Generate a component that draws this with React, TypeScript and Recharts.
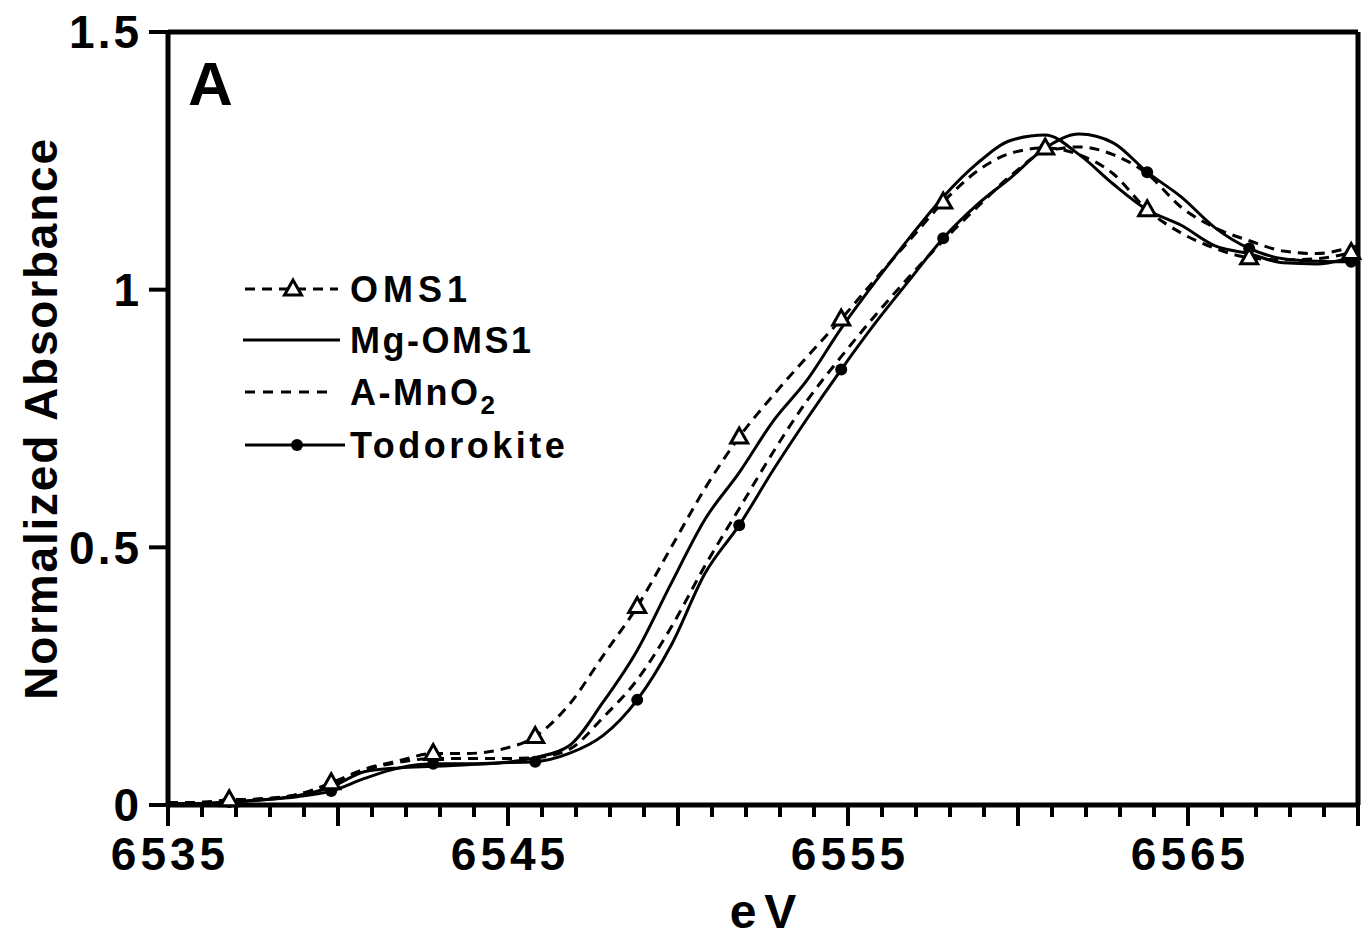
import React from 'react';
import { LineChart, Line, XAxis, YAxis, ReferenceLine } from 'recharts';

const FONT = '"Liberation Sans", Arial, Helvetica, sans-serif';

// shared energy grid (eV)
const energy = [
  6535, 6535.8, 6536.8, 6537.8, 6538.8, 6539.8, 6540.8, 6541.8, 6542.8, 6543.8,
  6544.8, 6545.8, 6546.8, 6547.8, 6548.8, 6549.8, 6550.8, 6551.8, 6552.8, 6553.8,
  6554.8, 6555.8, 6556.8, 6557.8, 6558.8, 6559.8, 6560.8, 6561.8, 6562.8, 6563.8,
  6564.8, 6565.8, 6566.8, 6567.8, 6568.8, 6569.8, 6570,
];

const oms1 = [
  0.005, 0.005, 0.01, 0.012, 0.02, 0.043, 0.07, 0.086, 0.1, 0.1,
  0.108, 0.133, 0.195, 0.29, 0.385, 0.5, 0.615, 0.714, 0.795, 0.87,
  0.943, 1.02, 1.095, 1.17, 1.23, 1.265, 1.275, 1.262, 1.225, 1.155,
  1.11, 1.08, 1.062, 1.058, 1.06, 1.072, 1.075,
];

const mgOms1 = [
  0.003, 0.003, 0.005, 0.01, 0.018, 0.035, 0.065, 0.072, 0.075, 0.078,
  0.082, 0.092, 0.115, 0.2, 0.3, 0.43, 0.555, 0.645, 0.745, 0.825,
  0.925, 1.015, 1.1, 1.18, 1.245, 1.29, 1.3, 1.262, 1.205, 1.155,
  1.125, 1.085, 1.07, 1.052, 1.05, 1.062, 1.065,
];

const aMnO2 = [
  0.005, 0.005, 0.008, 0.012, 0.02, 0.04, 0.068, 0.083, 0.09, 0.09,
  0.09, 0.092, 0.108, 0.17, 0.243, 0.345, 0.465, 0.575, 0.685, 0.785,
  0.87, 0.95, 1.025, 1.095, 1.16, 1.222, 1.268, 1.277, 1.262, 1.225,
  1.16, 1.12, 1.095, 1.075, 1.07, 1.082, 1.085,
];

const todorokite = [
  0.003, 0.003, 0.006, 0.01, 0.016, 0.027, 0.052, 0.072, 0.08, 0.08,
  0.082, 0.084, 0.1, 0.135, 0.204, 0.31, 0.45, 0.543, 0.65, 0.75,
  0.845, 0.935, 1.018, 1.1, 1.165, 1.218, 1.275, 1.302, 1.285, 1.228,
  1.18, 1.12, 1.08, 1.06, 1.055, 1.054, 1.055,
];

const markerEnergy = [
  6536.8, 6539.8, 6542.8, 6545.8, 6548.8, 6551.8, 6554.8, 6557.8, 6560.8, 6563.8,
  6566.8, 6569.8,
];

const seriesNames = ['OMS1', 'Mg-OMS1', 'A-MnO2', 'Todorokite'];
const xLabelTicks = [6535, 6545, 6555, 6565];
const xTicks = [
  6535, 6536, 6537, 6538, 6539, 6540, 6541, 6542, 6543, 6544, 6545, 6546,
  6547, 6548, 6549, 6550, 6551, 6552, 6553, 6554, 6555, 6556, 6557, 6558,
  6559, 6560, 6561, 6562, 6563, 6564, 6565, 6566, 6567, 6568, 6569, 6570,
];
const yTicks = [0, 0.5, 1, 1.5];

const data = energy.map((ev, i) => ({
  ev,
  oms1: oms1[i],
  mgOms1: mgOms1[i],
  aMnO2: aMnO2[i],
  todorokite: todorokite[i],
}));

const isMarker = (ev: number) => markerEnergy.some((m) => Math.abs(m - ev) < 1e-6);

const Triangle = ({ cx, cy }: { cx: number; cy: number }) => (
  <polygon
    points={`${cx},${cy - 9} ${cx - 8.5},${cy + 6} ${cx + 8.5},${cy + 6}`}
    fill="#fff"
    stroke="#000"
    strokeWidth={3}
    strokeLinejoin="miter"
  />
);

const triangleDot = (props: any) => {
  const { cx, cy, payload, index } = props;
  if (!isMarker(payload.ev)) return <g key={`t${index}`} />;
  return (
    <g key={`t${index}`}>
      <Triangle cx={cx} cy={cy} />
    </g>
  );
};

const circleDot = (props: any) => {
  const { cx, cy, payload, index } = props;
  if (!isMarker(payload.ev)) return <g key={`c${index}`} />;
  return <circle key={`c${index}`} cx={cx} cy={cy} r={6} fill="#000" />;
};

const XTick = (props: any) => {
  const { x, y, payload } = props;
  const v = payload.value;
  const major = Math.round(v) % 5 === 0;
  const labeled = xLabelTicks.includes(v);
  return (
    <g>
      <line x1={x} x2={x} y1={y} y2={y + (major ? 21 : 12)} stroke="#000" strokeWidth={4} />
      {labeled && (
        <text
          x={x + 2}
          y={y + 65}
          textAnchor="middle"
          fontFamily={FONT}
          fontWeight={700}
          fontSize={46}
          letterSpacing={4}
          fill="#000"
        >
          {v}
        </text>
      )}
    </g>
  );
};

const YLabel = (props: any) => {
  const vb = props.viewBox || {};
  const cy = (vb.y ?? 32) + (vb.height ?? 773) / 2;
  const cx = 41;
  return (
    <text
      x={cx}
      y={cy}
      transform={`rotate(-90, ${cx}, ${cy})`}
      textAnchor="middle"
      dominantBaseline="central"
      fontFamily={FONT}
      fontWeight={700}
      fontSize={46}
      letterSpacing={1.8}
      fill="#000"
    >
      Normalized Absorbance
    </text>
  );
};

const XLabel = (props: any) => {
  const vb = props.viewBox || {};
  const cx = (vb.x ?? 168) + (vb.width ?? 1190) / 2;
  return (
    <text
      x={cx + 4}
      y={928}
      textAnchor="middle"
      fontFamily={FONT}
      fontWeight={700}
      fontSize={48}
      letterSpacing={8}
      fill="#000"
    >
      eV
    </text>
  );
};

const legendRows = [
  { y: 289, dash: '10 7', marker: 'tri', x1: 245, x2: 338 },
  { y: 340, dash: undefined, marker: 'none', x1: 243, x2: 340 },
  { y: 392, dash: '10 8', marker: 'none', x1: 245, x2: 332 },
  { y: 445, dash: undefined, marker: 'dot', x1: 245, x2: 345 },
];

const Overlay = () => (
  <svg
    width={1363}
    height={938}
    style={{ position: 'absolute', left: 0, top: 0, pointerEvents: 'none' }}
  >
    <text x={188} y={105} fontFamily={FONT} fontWeight={700} fontSize={62} fill="#000">
      A
    </text>
    {legendRows.map((r, i) => (
      <g key={i}>
        <line
          x1={r.x1}
          x2={r.x2}
          y1={r.y}
          y2={r.y}
          stroke="#000"
          strokeWidth={3}
          strokeDasharray={r.dash}
        />
        {r.marker === 'tri' && <Triangle cx={293} cy={r.y} />}
        {r.marker === 'dot' && <circle cx={297} cy={r.y} r={6} fill="#000" />}
        <text
          x={350}
          y={r.y + 13}
          fontFamily={FONT}
          fontWeight={700}
          fontSize={36}
          letterSpacing={i === 0 ? 5 : i === 3 ? 3.5 : 2.5}
          fill="#000"
        >
          {seriesNames[i] === 'A-MnO2' ? (
            <>
              A-MnO
              <tspan fontSize={26} dy={9}>
                2
              </tspan>
            </>
          ) : (
            seriesNames[i]
          )}
        </text>
      </g>
    ))}
  </svg>
);

export default function App() {
  return (
    <div
      style={{
        position: 'fixed',
        left: 0,
        top: 0,
        width: 1363,
        height: 938,
        background: '#fff',
      }}
    >
      <LineChart
        width={1363}
        height={938}
        data={data}
        margin={{ top: 32, right: 5, left: 0, bottom: 0 }}
      >
        <XAxis
          dataKey="ev"
          type="number"
          domain={[6535, 6570]}
          ticks={xTicks}
          interval={0}
          height={133}
          tickSize={0}
          tickMargin={0}
          tickLine={false}
          tick={<XTick />}
          axisLine={{ stroke: '#000', strokeWidth: 5 }}
          label={<XLabel />}
        />
        <YAxis
          type="number"
          domain={[0, 1.5]}
          ticks={yTicks}
          width={168}
          tickSize={19}
          tickMargin={7}
          tickLine={{ stroke: '#000', strokeWidth: 4 }}
          axisLine={{ stroke: '#000', strokeWidth: 5 }}
          tick={{
            fill: '#000',
            fontSize: 46,
            fontWeight: 700,
            fontFamily: FONT,
            letterSpacing: 3,
          }}
          label={<YLabel />}
        />
        <ReferenceLine y={1.5} stroke="#000" strokeWidth={5} />
        <ReferenceLine x={6570} stroke="#000" strokeWidth={5} />
        <Line
          dataKey="mgOms1"
          type="monotone"
          stroke="#000"
          strokeWidth={3}
          dot={false}
          isAnimationActive={false}
        />
        <Line
          dataKey="aMnO2"
          type="monotone"
          stroke="#000"
          strokeWidth={3}
          strokeDasharray="10 7"
          dot={false}
          isAnimationActive={false}
        />
        <Line
          dataKey="todorokite"
          type="monotone"
          stroke="#000"
          strokeWidth={3}
          dot={circleDot}
          isAnimationActive={false}
        />
        <Line
          dataKey="oms1"
          type="monotone"
          stroke="#000"
          strokeWidth={3}
          strokeDasharray="10 7"
          dot={triangleDot}
          isAnimationActive={false}
        />
      </LineChart>
      <Overlay />
    </div>
  );
}
